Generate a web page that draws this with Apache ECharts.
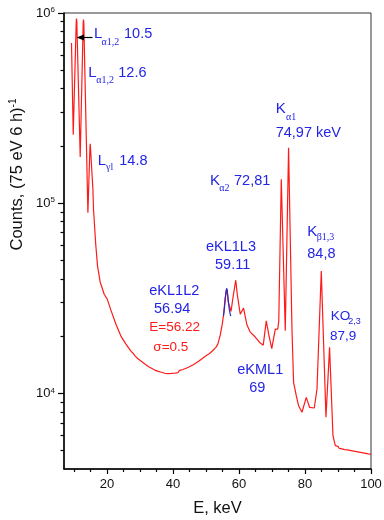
<!DOCTYPE html>
<html>
<head>
<meta charset="utf-8">
<script src="https://cdn.jsdelivr.net/npm/echarts@6/dist/echarts.min.js"></script>
<style>html,body{margin:0;padding:0;background:#fff}#c{width:384px;height:520px}</style>
</head>
<body>
<div id="c"></div>
<script>
// ---- data ----
const energy = [9.27, 9.8, 10.7, 10.79, 10.88, 11.91, 12.82, 12.91, 13.0, 14.24, 14.85, 14.94, 15.03,
  15.76, 15.94, 16.61, 17.15, 17.97, 19.18, 20.09, 21.21, 22.73, 24.24, 25.76, 27.27,
  28.0, 28.5, 29.0, 29.5, 30.0, 30.5, 31.0, 31.5, 32.0, 32.5, 33.0, 33.5, 34.0, 34.5, 35.0, 35.5,
  36.0, 36.5, 37.0, 37.5, 38.0, 38.5, 39.0, 39.5, 40.0, 40.5, 41.0, 41.5, 42.0, 42.5, 43.0, 43.5,
  44.0, 44.5, 45.0, 45.5, 46.0, 46.5, 47.0, 47.5, 48.0, 48.5, 49.0, 49.5, 50.0, 50.5, 51.0, 51.5,
  52.0, 52.5, 53.0,
  53.6, 54.33, 54.94, 55.33, 55.8, 56.3, 56.8, 57.6, 58.2, 59.03, 59.5, 60.39, 61.39, 62.42, 63.42,
  64.94, 66.45, 67.36, 68.27, 69.0, 69.94, 71.0, 71.76, 72.06, 72.82, 74.03, 75.03, 76.06, 76.55,
  77.36, 78.06, 79.09, 80.39, 81.39, 82.82, 83.64, 84.94, 86.36, 87.45, 88.48, 89.18,
  89.6, 90.0, 90.4, 90.8, 91.2, 91.6, 92.0, 92.4, 92.8, 93.2, 93.6, 94.0, 94.4, 94.8, 95.2, 95.6,
  96.0, 96.4, 96.8, 97.2, 97.6, 98.0, 98.4, 98.8, 99.2, 99.6, 100];
const counts = [696000, 229000, 900000, 935000, 900000, 175000, 890000, 925000, 890000, 89000, 195000, 205000, 195000,
  118000, 92800, 60800, 46800, 38400, 33200, 31300, 27400, 23100, 20000, 18150, 16680,
  16200, 15750, 15600, 15150, 15100, 14700, 14650, 14250, 14300, 13850, 13950, 13550, 13600, 13250, 13400, 13050,
  13200, 12900, 13050, 12750, 12950, 12700, 12950, 12720, 12980, 12750, 13050, 12850, 13200, 12950, 13350, 13150,
  13550, 13400, 13800, 13650, 14100, 13950, 14450, 14300, 14850, 14700, 15300, 15100, 15750, 15500, 16150, 16050,
  16750, 16600, 17450,
  18150, 20230, 23100, 25760, 31500, 35500, 30000, 27000, 32000, 39350, 33000, 26070, 28050, 22840, 20990,
  19770, 18370, 17910, 24040, 20500, 17180, 21780, 21780, 24000, 133700, 21320, 195600, 21750, 11430,
  9715, 8610, 7950, 9520, 8445, 8370, 10540, 44020, 7480, 17440, 5990, 5309,
  5220, 5260, 5130, 5230, 5100, 5190, 5060, 5170, 5040, 5130, 5010, 5110, 4980, 5070, 4950, 5040,
  4920, 5010, 4890, 4980, 4860, 4950, 4830, 4920, 4800, 4880, 4780];
const fitEnergy = [55.3, 55.6, 55.9, 56.1, 56.3, 56.5, 56.8, 57.1, 57.5];
const fitCounts = [25500, 28000, 32000, 34500, 35500, 34000, 30500, 27500, 25500];
const xMajorTicks = [20, 40, 60, 80, 100];
const xMinorTicks = [10, 15, 25, 30, 35, 45, 50, 55, 65, 70, 75, 85, 90, 95];
const yMajorTicks = [1e4, 1e5, 1e6];
const yMinorTicks = [5000, 6000, 7000, 8000, 9000, 20000, 30000, 40000, 50000, 60000, 70000, 80000, 90000,
  200000, 300000, 400000, 500000, 600000, 700000, 800000, 900000];

const FONT = '"Liberation Sans", Arial, sans-serif';
const SERIF = '"Liberation Serif", "Times New Roman", serif';
const BLUE = '#2424e6';
const RED = '#ff1a1a';

function txt(x, y, text, size, color, family) {
  return { type: 'text', x: x, y: y, z: 100,
    style: { text: text, fill: color, font: size + 'px ' + (family || FONT), align: 'left', verticalAlign: 'middle' } };
}

const gridPos = { left: 64, right: 13, top: 13, bottom: 51 };
const chart = echarts.init(document.getElementById('c'), null, { renderer: 'canvas' });
chart.setOption({
  animation: false,
  backgroundColor: '#fff',
  grid: [
    Object.assign({ show: true, borderColor: '#333', borderWidth: 1, outerBoundsMode: 'none' }, gridPos),
    Object.assign({ show: false, outerBoundsMode: 'none' }, gridPos)
  ],
  xAxis: [
    { type: 'value', gridIndex: 0, min: 7, max: 100,
      axisLine: { show: true, lineStyle: { color: '#000', width: 1.5 } },
      axisTick: { show: true, length: 5, customValues: xMajorTicks, lineStyle: { color: '#000', width: 1.2 } },
      axisLabel: { customValues: xMajorTicks, fontSize: 13, color: '#111', fontFamily: FONT, margin: 9 },
      splitLine: { show: false } },
    { type: 'value', gridIndex: 1, min: 7, max: 100,
      axisLine: { show: false },
      axisTick: { show: true, length: 3, customValues: xMinorTicks, lineStyle: { color: '#000', width: 1.2 } },
      axisLabel: { show: false },
      splitLine: { show: false } }
  ],
  yAxis: [
    { type: 'log', logBase: 10, gridIndex: 0, min: 4000, max: 1e6,
      axisLine: { show: true, lineStyle: { color: '#000', width: 1.5 } },
      axisTick: { show: true, length: 6, customValues: yMajorTicks, lineStyle: { color: '#000', width: 1.2 } },
      axisLabel: { customValues: yMajorTicks, margin: 9, color: '#111',
        formatter: function (v) { return '{a|10}{b|' + Math.round(Math.log10(v)) + '}'; },
        rich: { a: { fontSize: 13, lineHeight: 14, fontFamily: FONT, color: '#111' },
                b: { fontSize: 8, lineHeight: 8, verticalAlign: 'top', fontFamily: FONT, color: '#111' } } },
      splitLine: { show: false } },
    { type: 'log', logBase: 10, gridIndex: 1, min: 4000, max: 1e6,
      axisLine: { show: false },
      axisTick: { show: true, length: 3.5, customValues: yMinorTicks, lineStyle: { color: '#000', width: 1.2 } },
      axisLabel: { show: false },
      splitLine: { show: false } }
  ],
  series: [
    { type: 'line', xAxisIndex: 0, yAxisIndex: 0, showSymbol: false, symbol: 'none',
      data: energy.map((e, i) => [e, counts[i]]),
      lineStyle: { color: RED, width: 1.2 }, z: 2 },
    { type: 'line', xAxisIndex: 0, yAxisIndex: 0, showSymbol: false, symbol: 'none', smooth: true,
      data: fitEnergy.map((e, i) => [e, fitCounts[i]]),
      lineStyle: { color: '#2a2ac0', width: 1.2 }, z: 3 }
  ],
  graphic: [
    // arrow
    { type: 'line', z: 100, shape: { x1: 92.5, y1: 37.5, x2: 82, y2: 37.5 }, style: { stroke: '#000', lineWidth: 1.2 } },
    { type: 'polygon', z: 100, shape: { points: [[76.5, 37.5], [84, 34.5], [84, 40.5]] }, style: { fill: '#000' } },
    txt(94, 34.3, 'L', 15, BLUE), txt(101.5, 42, 'α1,2', 10, BLUE, SERIF), txt(124, 34.3, '10.5', 14.5, BLUE),
    txt(88.3, 72.7, 'L', 15, BLUE), txt(96.3, 80, 'α1,2', 10, BLUE, SERIF), txt(118.3, 72.7, '12.6', 14.5, BLUE),
    txt(97.7, 161, 'L', 15, BLUE), txt(106, 167.5, 'γl', 10, BLUE, SERIF), txt(119.3, 161, '14.8', 14.5, BLUE),
    txt(275.7, 109.3, 'K', 15, BLUE), txt(286, 117, 'α1', 10, BLUE, SERIF),
    txt(275.7, 132.7, '74,97 keV', 14.5, BLUE),
    txt(210, 180.7, 'K', 15, BLUE), txt(219.3, 188.3, 'α2', 10, BLUE, SERIF), txt(234, 180.7, '72,81', 14.5, BLUE),
    txt(206, 247.3, 'eKL1L3', 14.5, BLUE), txt(215, 265, '59.11', 14.5, BLUE),
    txt(307.3, 231.7, 'K', 15, BLUE), txt(316.7, 237, 'β1,3', 10, BLUE, SERIF), txt(307.3, 254, '84,8', 14.5, BLUE),
    txt(149.3, 290.7, 'eKL1L2', 14.5, BLUE), txt(154, 309, '56.94', 14.5, BLUE),
    txt(149.3, 327.7, 'E=56.22', 13.5, RED), txt(153.3, 347.3, 'σ=0.5', 13.5, RED),
    txt(237.3, 370, 'eKML1', 14.5, BLUE), txt(249.3, 387.7, '69', 14.5, BLUE),
    txt(330.7, 316.7, 'KO', 13.5, BLUE), txt(348.3, 321.7, '2,3', 9, BLUE), txt(330, 336, '87,9', 13.5, BLUE),
    // axis titles
    { type: 'text', x: 217.5, y: 508, z: 100,
      style: { text: 'E, keV', fill: '#111', font: '16.5px ' + FONT, align: 'center', verticalAlign: 'middle' } },
    { type: 'text', x: 17, y: 174.5, rotation: Math.PI / 2, z: 100,
      style: { text: '{m|Counts, (75 eV 6 h)}{s|-1}', align: 'center', verticalAlign: 'middle',
        rich: { m: { fontSize: 16.5, lineHeight: 18, fontFamily: FONT, fill: '#111', color: '#111' },
                s: { fontSize: 10, lineHeight: 10, verticalAlign: 'top', fontFamily: FONT, fill: '#111', color: '#111' } } } }
  ]
});
</script>
</body>
</html>
